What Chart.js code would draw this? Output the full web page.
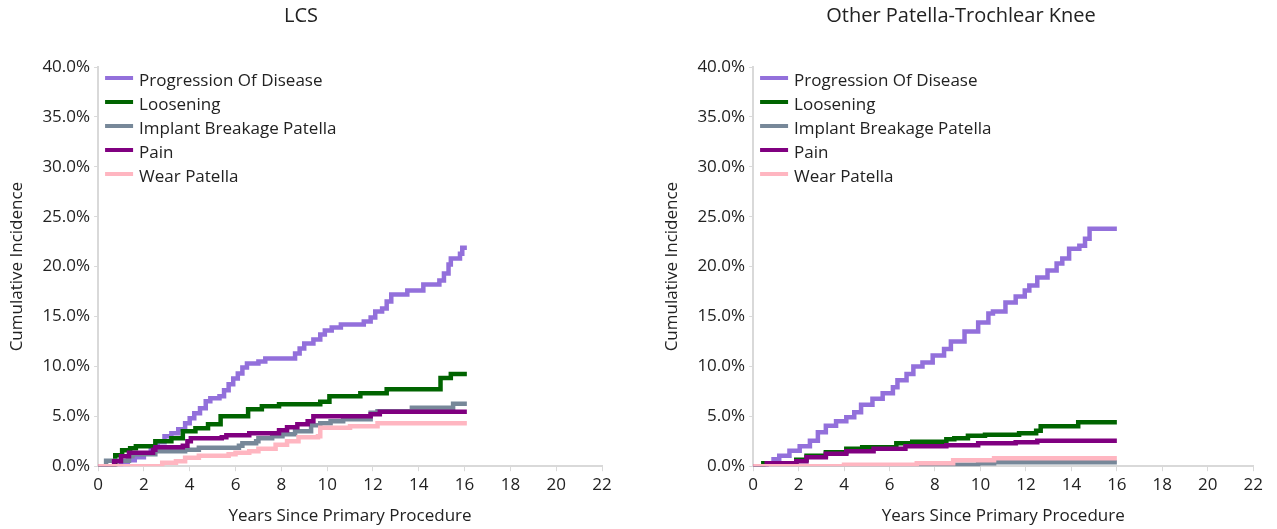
<!DOCTYPE html>
<html>
<head>
<meta charset="utf-8">
<script src="https://cdn.jsdelivr.net/npm/chart.js@4.4.1/dist/chart.umd.min.js"></script>
<style>
  html, body { margin: 0; padding: 0; background: #fff; }
  .panel { position: absolute; top: 0; height: 529px; }
  #left { left: 0; width: 620px; }
  #right { left: 655px; width: 612px; }
</style>
</head>
<body>
<div class="panel" id="left"><canvas id="graficoLcs"></canvas></div>
<div class="panel" id="right"><canvas id="graficoOther"></canvas></div>
<script>
// series names and colours
const seriesNames = ['Progression Of Disease', 'Loosening', 'Implant Breakage Patella', 'Pain', 'Wear Patella'];
const seriesColors = ['#9370DB', '#006400', '#778899', '#800080', '#FFB6C1'];

const xTicks = [0, 2, 4, 6, 8, 10, 12, 14, 16, 18, 20, 22];
const yTicks = [0, 5, 10, 15, 20, 25, 30, 35, 40];

// LCS - [years, cumulative incidence %]
const lcsProgression = [[0,0],[1.0,0.2],[1.3,0.6],[1.6,0.9],[2.0,1.3],[2.3,1.8],[2.6,2.4],[2.9,3.0],[3.2,3.3],[3.5,3.7],[3.8,4.3],[4.0,4.8],[4.2,5.3],[4.45,5.8],[4.7,6.5],[4.9,6.8],[5.3,7.0],[5.5,7.6],[5.7,8.2],[5.9,8.8],[6.1,9.3],[6.3,9.9],[6.5,10.3],[7.0,10.5],[7.3,10.8],[8.6,11.3],[8.8,11.8],[9.0,12.3],[9.4,12.7],[9.7,13.2],[9.9,13.6],[10.2,13.9],[10.6,14.2],[11.6,14.5],[11.9,14.9],[12.1,15.5],[12.4,15.8],[12.6,16.5],[12.8,17.2],[13.5,17.6],[14.2,18.2],[14.9,18.6],[15.1,19.3],[15.3,20.2],[15.4,20.8],[15.8,21.3],[15.9,21.9],[16.1,21.9]];
const lcsLoosening = [[0,0],[0.75,1.1],[1.05,1.6],[1.4,1.8],[1.65,2.0],[2.5,2.5],[3.2,2.8],[3.7,3.5],[4.25,3.8],[4.8,4.2],[5.35,5.0],[6.55,5.7],[7.15,6.0],[7.9,6.2],[9.7,6.45],[10.1,7.0],[11.45,7.3],[12.6,7.7],[14.95,8.85],[15.4,9.25],[16.1,9.25]];
const lcsImplantBreakage = [[0,0],[0.35,0.55],[1.35,1.0],[1.5,1.2],[2.5,1.5],[3.8,1.65],[4.4,1.85],[6.15,2.05],[6.3,2.3],[6.9,2.5],[7.0,2.8],[7.6,3.0],[8.05,3.2],[8.6,3.5],[9.3,4.1],[9.7,4.3],[10.15,4.5],[10.7,4.7],[11.9,5.35],[12.2,5.5],[13.7,5.85],[15.5,6.25],[16.1,6.25]];
const lcsPain = [[0,0],[0.7,0.5],[1.0,1.0],[1.35,1.35],[2.4,1.65],[2.5,1.9],[3.7,2.05],[3.9,2.5],[4.05,2.8],[5.4,2.9],[5.6,3.1],[6.6,3.3],[7.9,3.6],[8.25,3.9],[8.7,4.2],[9.15,4.5],[9.4,5.0],[11.9,5.2],[12.3,5.45],[16.1,5.45]];
const lcsWear = [[0,0],[2.8,0.35],[3.4,0.5],[3.8,0.85],[4.4,1.05],[5.7,1.2],[6.0,1.35],[6.6,1.5],[7.0,1.75],[7.75,2.15],[8.25,2.5],[8.75,2.9],[9.6,3.0],[9.7,3.85],[11.0,4.0],[12.2,4.3],[16.1,4.3]];

// Other Patella-Trochlear Knee - [years, cumulative incidence %]
const otherProgression = [[0,0],[0.55,0.3],[0.9,0.7],[1.15,1.05],[1.6,1.55],[2.05,2.0],[2.5,2.55],[2.85,3.4],[3.2,4.05],[3.65,4.5],[4.1,4.9],[4.45,5.4],[4.75,6.15],[5.25,6.75],[5.7,7.3],[6.15,7.9],[6.35,8.6],[6.75,9.25],[7.05,10.0],[7.45,10.4],[7.9,11.1],[8.4,11.75],[8.7,12.5],[9.3,13.5],[9.9,14.4],[10.35,15.3],[10.55,15.5],[11.1,16.4],[11.55,17.0],[11.95,17.6],[12.15,18.1],[12.5,18.9],[12.95,19.6],[13.35,20.3],[13.6,20.8],[13.9,21.8],[14.35,22.1],[14.6,22.8],[14.8,23.8],[16.0,23.8]];
const otherLoosening = [[0,0],[0.45,0.3],[1.9,0.65],[2.35,1.05],[3.2,1.4],[4.1,1.75],[4.8,1.9],[6.3,2.3],[7.0,2.45],[8.5,2.7],[8.85,2.8],[9.45,3.05],[10.2,3.15],[11.7,3.3],[12.45,3.55],[12.65,4.0],[14.3,4.4],[16.0,4.4]];
const otherImplantBreakage = [[0,0],[8.8,0.15],[9.9,0.3],[10.6,0.4],[16.0,0.4]];
const otherPain = [[0,0],[0.6,0.3],[1.9,0.5],[2.35,0.9],[3.2,1.25],[4.1,1.5],[5.3,1.75],[6.7,2.0],[8.5,2.1],[9.9,2.3],[11.55,2.4],[12.5,2.55],[16.0,2.55]];
const otherWear = [[0,0],[4.0,0.15],[7.2,0.3],[8.8,0.6],[10.6,0.8],[16.0,0.8]];

const lcsSeries = [lcsProgression, lcsLoosening, lcsImplantBreakage, lcsPain, lcsWear];
const otherSeries = [otherProgression, otherLoosening, otherImplantBreakage, otherPain, otherWear];

const FONT = '"Open Sans", "Noto Sans", sans-serif';
const TEXT = '#222';
const AXIS = '#d9d9d9';

// legend drawn inside the plot area, top-left, one entry per row
const insideLegend = {
    id: 'insideLegend',
    afterDatasetsDraw(chart) {
        const ctx = chart.ctx;
        const area = chart.chartArea;
        ctx.save();
        ctx.font = '17px ' + FONT;
        ctx.textBaseline = 'middle';
        ctx.textAlign = 'left';
        chart.data.datasets.forEach((ds, i) => {
            const y = area.top + 14 + i * 24;
            ctx.fillStyle = ds.borderColor;
            ctx.fillRect(area.left + 7, y - 5, 28, 4);
            ctx.fillStyle = TEXT;
            ctx.fillText(ds.label, area.left + 41, y);
        });
        ctx.restore();
    }
};

function buildDatasets(series) {
    // later series drawn on top (lower order = drawn last)
    return series.map((pts, i) => ({
        label: seriesNames[i],
        data: pts.map(p => ({ x: p[0], y: p[1] })),
        borderColor: seriesColors[i],
        backgroundColor: seriesColors[i],
        borderWidth: 4.5,
        pointRadius: 0,
        stepped: 'before',
        fill: false,
        order: series.length - i
    }));
}

function makeChart(canvasId, title, series, padRight) {
    const ctx = document.getElementById(canvasId);
    return new Chart(ctx, {
        type: 'line',
        data: { datasets: buildDatasets(series) },
        plugins: [insideLegend],
        options: {
            responsive: true,
            maintainAspectRatio: false,
            animation: false,
            layout: { padding: { left: 0, right: padRight, top: 0, bottom: 3 } },
            plugins: {
                title: {
                    display: true,
                    text: title,
                    color: TEXT,
                    font: { family: FONT, size: 20, weight: 'normal' },
                    padding: { top: 4, bottom: 39 }
                },
                legend: { display: false },
                tooltip: { enabled: false }
            },
            scales: {
                x: {
                    type: 'linear',
                    min: 0,
                    max: 22,
                    afterBuildTicks: axis => { axis.ticks = xTicks.map(v => ({ value: v })); },
                    ticks: { color: TEXT, font: { family: FONT, size: 17 }, padding: 4, maxRotation: 0 },
                    grid: { drawOnChartArea: false, drawTicks: true, tickLength: 5, color: AXIS },
                    border: { display: true, color: AXIS, width: 2 },
                    title: {
                        display: true,
                        text: 'Years Since Primary Procedure',
                        color: TEXT,
                        font: { family: FONT, size: 17 },
                        padding: { top: 6, bottom: 0 }
                    }
                },
                y: {
                    type: 'linear',
                    min: 0,
                    max: 40,
                    afterBuildTicks: axis => { axis.ticks = yTicks.map(v => ({ value: v })); },
                    ticks: {
                        color: TEXT,
                        font: { family: FONT, size: 17 },
                        padding: 4,
                        callback: value => value.toFixed(1) + '%'
                    },
                    grid: { drawOnChartArea: false, drawTicks: true, tickLength: 4, color: AXIS },
                    border: { display: true, color: AXIS, width: 2 },
                    title: {
                        display: true,
                        text: 'Cumulative Incidence',
                        color: TEXT,
                        font: { family: FONT, size: 17 },
                        padding: { top: 7, bottom: 11 }
                    }
                }
            }
        }
    });
}

document.addEventListener('DOMContentLoaded', function () {
    makeChart('graficoLcs', 'LCS', lcsSeries, 18);
    makeChart('graficoOther', 'Other Patella-Trochlear Knee', otherSeries, 0);
});
</script>
</body>
</html>
